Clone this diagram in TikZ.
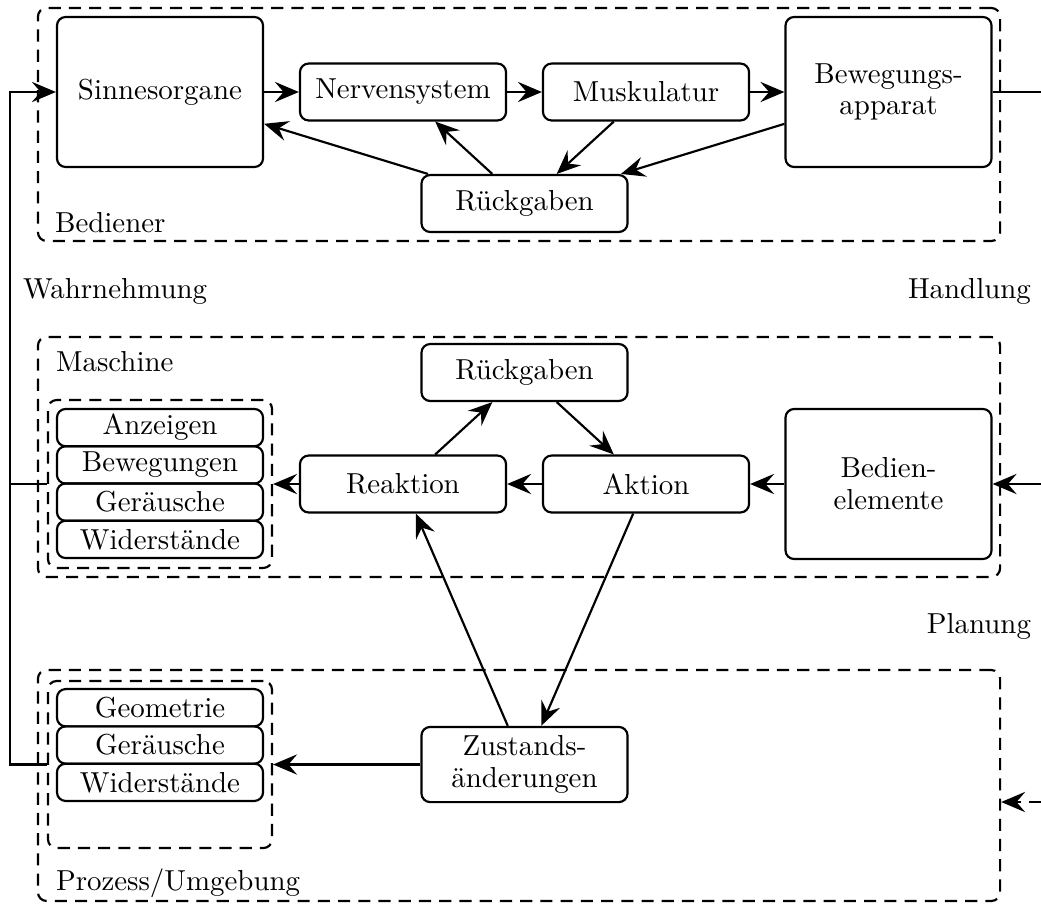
\documentclass[tikz,border=0pt]{standalone}
\usetikzlibrary{arrows.meta}
\begin{document}
\begin{tikzpicture}[x=0.346pt,y=-0.346pt,
  line width=0.75pt,
  >={Stealth[length=8.3pt,width=7pt,inset=3pt]},
  every node/.style={font=\fontsize{10}{11}\selectfont},
  blockbox/.style={draw, rounded corners=3pt, align=center, minimum width=71.3pt, inner sep=2pt},
  boxS/.style={blockbox, minimum height=19.7pt},
  boxL/.style={blockbox, minimum height=51.9pt},
  boxZ/.style={blockbox, minimum height=26pt},
  boxI/.style={blockbox, minimum height=12.9pt, inner sep=1pt},
  dashline/.style={dash pattern=on 4.2pt off 2.8pt},
  frame/.style={draw, dashline, rounded corners=3pt, inner sep=0pt},
  txt/.style={inner sep=0pt}
]
\useasboundingbox (0,0) rectangle (1041,904);

% group frames
\node[frame, minimum width=332.9pt, minimum height=80.6pt] (op) at (519,124.5) {};
\node[frame, minimum width=332.9pt, minimum height=83.0pt] (ma) at (519,457) {};
\node[frame, minimum width=332.9pt, minimum height=79.9pt] (pr) at (519,785.5) {};
\node[frame, minimum width=77.5pt, minimum height=58.1pt] (maOut) at (160,484) {};
\node[frame, minimum width=77.5pt, minimum height=57.8pt] (prOut) at (160,764.5) {};

% operator
\node[boxL] (sinn) at (160,92) {Sinnesorgane};
\node[boxS] (nerv) at (403,92) {Nervensystem};
\node[boxS] (musk) at (646,92) {Muskulatur};
\node[boxL] (bew) at (888.5,92) {Bewegungs-\\apparat};
\node[boxS] (rueckO) at (524.5,203.5) {Rückgaben};

% machine
\node[boxS] (rueckM) at (524.5,372.5) {Rückgaben};
\node[boxS] (reak) at (403,484) {Reaktion};
\node[boxS] (akt) at (646,484) {Aktion};
\node[boxL] (bed) at (888.5,484) {Bedien-\\elemente};
\node[boxI] (anz) at (160,427.6) {Anzeigen};
\node[boxI] (bewg) at (160,464.9) {Bewegungen};
\node[boxI] (ger1) at (160,502.1) {Geräusche};
\node[boxI] (wid1) at (160,539.4) {Widerstände};

% process / environment
\node[boxZ] (zust) at (524.5,764.5) {Zustands-\\änderungen};
\node[boxI] (geo) at (160,707.7) {Geometrie};
\node[boxI] (ger2) at (160,745) {Geräusche};
\node[boxI] (wid2) at (160,782.3) {Widerstände};

% labels
\node[txt, anchor=base west] (lbBed) at (54,232) {Bediener};
\node[txt, anchor=base west] (lbMa) at (55,371) {Maschine};
\node[txt, anchor=base west] (lbPr) at (55,890) {Prozess/Umgebung};
\node[txt, anchor=base west] (lbW) at (22,298) {Wahrnehmung};
\node[txt, anchor=base east] (lbH) at (1032,298) {Handlung};
\node[txt, anchor=base east] (lbP) at (1032,633) {Planung};

% connectors
\coordinate (lft) at (10,0);
\coordinate (rgt) at (1041,0);
\coordinate (pin) at (1041,802);

\draw[->] (prOut.west) -- (prOut.west -| lft) |- (sinn.west);
\draw (maOut.west) -- (maOut.west -| lft);

\draw[->] (sinn) -- (nerv);
\draw[->] (nerv) -- (musk);
\draw[->] (musk) -- (bew);
\draw (bew.east) -- (bew.east -| rgt);
\draw[->] (rueckO) -- (sinn);
\draw[->] (rueckO) -- (nerv);
\draw[->] (musk) -- (rueckO);
\draw[->] (bew) -- (rueckO);

\draw[->] (bed.east -| rgt) -- (bed.east);
\draw[->] (bed) -- (akt);
\draw[->] (akt) -- (reak);
\draw[->] (reak) -- (maOut.east);
\draw[->] (reak) -- (rueckM);
\draw[->] (rueckM) -- (akt);
\draw[->] (zust) -- (reak);
\draw[->] (akt) -- (zust);
\draw[->] (zust) -- (prOut.east);
\draw[->, dashline] (pin) -- (pin -| pr.east);
\end{tikzpicture}
\end{document}
